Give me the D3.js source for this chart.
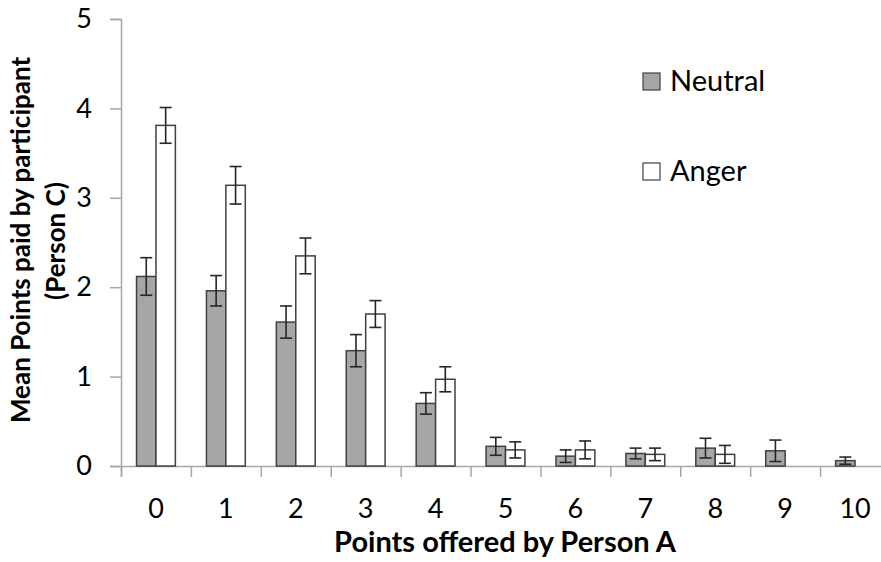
<!DOCTYPE html>
<html><head><meta charset="utf-8">
<script src="https://cdn.jsdelivr.net/npm/d3@7/dist/d3.min.js"></script>
<style>body{margin:0;background:#fff}svg{display:block}</style>
</head><body><svg id="c" width="881" height="562"></svg>
<script>
const categories = ["0","1","2","3","4","5","6","7","8","9","10"];
const seriesNames = ["Neutral","Anger"];
const neutralMeans = [2.12,1.96,1.61,1.29,0.70,0.22,0.11,0.14,0.20,0.17,0.06];
const neutralErr   = [0.21,0.17,0.18,0.18,0.12,0.10,0.07,0.06,0.11,0.12,0.04];
const angerMeans   = [3.81,3.14,2.35,1.70,0.97,0.18,0.18,0.13,0.13,0,0];
const angerErr     = [0.20,0.21,0.20,0.15,0.14,0.09,0.10,0.07,0.10,null,null];
const yTicks = [0,1,2,3,4,5];

const font = "Lato, 'Open Sans', sans-serif";
const svg = d3.select("#c");
const x0 = 121, x1 = 890, yTop = 19, yBot = 466;
const x = d3.scaleBand().domain(categories).range([x0, x1]).padding(0);
const xb = d3.scaleLinear().domain([0, categories.length]).range([x0, x1]);
const xi = d3.scaleBand().domain(seriesNames).range([0, x.bandwidth()]).paddingInner(0).paddingOuter(0.8);
const y = d3.scaleLinear().domain([0,5]).range([yBot, yTop]);
const fills = {Neutral:"#a6a6a6", Anger:"#ffffff"};
const axisColor = "#a6a6a6";

// y axis
const ya = svg.append("g").attr("transform",`translate(${x0},0)`)
  .call(d3.axisLeft(y).tickValues(yTicks).tickSize(11).tickFormat(d3.format("d")).tickPadding(18));
ya.select(".domain").attr("stroke",axisColor).attr("stroke-width",1.5);
ya.selectAll(".tick line").attr("stroke",axisColor).attr("stroke-width",1.5);
ya.selectAll(".tick text").attr("font-family",font).attr("font-size",27).attr("fill","#000");

// x axis (boundary ticks)
const xa = svg.append("g").attr("transform",`translate(0,${yBot})`)
  .call(d3.axisBottom(xb).tickValues(d3.range(categories.length+1)).tickSize(11).tickFormat(""));
xa.select(".domain").attr("stroke",axisColor).attr("stroke-width",1.5);
xa.selectAll(".tick line").attr("stroke",axisColor).attr("stroke-width",1.5);
// category labels
const xl = svg.append("g").attr("transform",`translate(0,${yBot})`)
  .call(d3.axisBottom(x).tickSize(0).tickPadding(33));
xl.select(".domain").remove();
xl.selectAll(".tick text").attr("font-family",font).attr("font-size",27).attr("fill","#000");

// bars
const data = categories.map((c,i)=>({c, vals:[
  {s:"Neutral", v:neutralMeans[i], e:neutralErr[i]},
  {s:"Anger", v:angerMeans[i], e:angerErr[i]}]}));
const g = svg.append("g");
const grp = g.selectAll("g.cat").data(data).join("g").attr("class","cat")
  .attr("transform",d=>`translate(${x(d.c)},0)`);
grp.selectAll("rect").data(d=>d.vals.filter(v=>v.v>0)).join("rect")
  .attr("x",d=>xi(d.s)).attr("width",xi.bandwidth())
  .attr("y",d=>y(d.v)).attr("height",d=>y(0)-y(d.v))
  .attr("fill",d=>fills[d.s]).attr("stroke","#404040").attr("stroke-width",1.5);
// error bars
const eb = grp.selectAll("g.err").data(d=>d.vals.filter(v=>v.e!=null && v.v>0)).join("g").attr("class","err")
  .attr("stroke","#262626").attr("stroke-width",1.6);
const cap = 6;
eb.append("line").attr("x1",d=>xi(d.s)+xi.bandwidth()/2).attr("x2",d=>xi(d.s)+xi.bandwidth()/2)
  .attr("y1",d=>y(d.v+d.e)).attr("y2",d=>y(d.v-d.e));
eb.append("line").attr("x1",d=>xi(d.s)+xi.bandwidth()/2-cap).attr("x2",d=>xi(d.s)+xi.bandwidth()/2+cap)
  .attr("y1",d=>y(d.v+d.e)).attr("y2",d=>y(d.v+d.e));
eb.append("line").attr("x1",d=>xi(d.s)+xi.bandwidth()/2-cap).attr("x2",d=>xi(d.s)+xi.bandwidth()/2+cap)
  .attr("y1",d=>y(d.v-d.e)).attr("y2",d=>y(d.v-d.e));

// axis titles
svg.append("text").attr("x",505).attr("y",552).attr("text-anchor","middle")
  .attr("font-family",font).attr("font-weight","bold").attr("font-size",29).attr("fill","#000")
  .text("Points offered by Person A");
svg.append("text").attr("transform","translate(30,240) rotate(-90)").attr("text-anchor","middle")
  .attr("font-family",font).attr("font-weight","bold").attr("font-size",26).attr("fill","#000")
  .text("Mean Points paid by participant");
svg.append("text").attr("transform","translate(65,241) rotate(-90)").attr("text-anchor","middle")
  .attr("font-family",font).attr("font-weight","bold").attr("font-size",26).attr("fill","#000")
  .text("(Person C)");

// legend
const leg = svg.append("g").selectAll("g").data(seriesNames).join("g")
  .attr("transform",(d,i)=>`translate(643,${73+i*90})`);
leg.append("rect").attr("width",17).attr("height",17).attr("fill",d=>fills[d]).attr("stroke","#404040").attr("stroke-width",1.2);
leg.append("text").attr("x",27).attr("y",18).attr("font-family",font).attr("font-size",29).attr("fill","#000").text(d=>d);
</script></body></html>
